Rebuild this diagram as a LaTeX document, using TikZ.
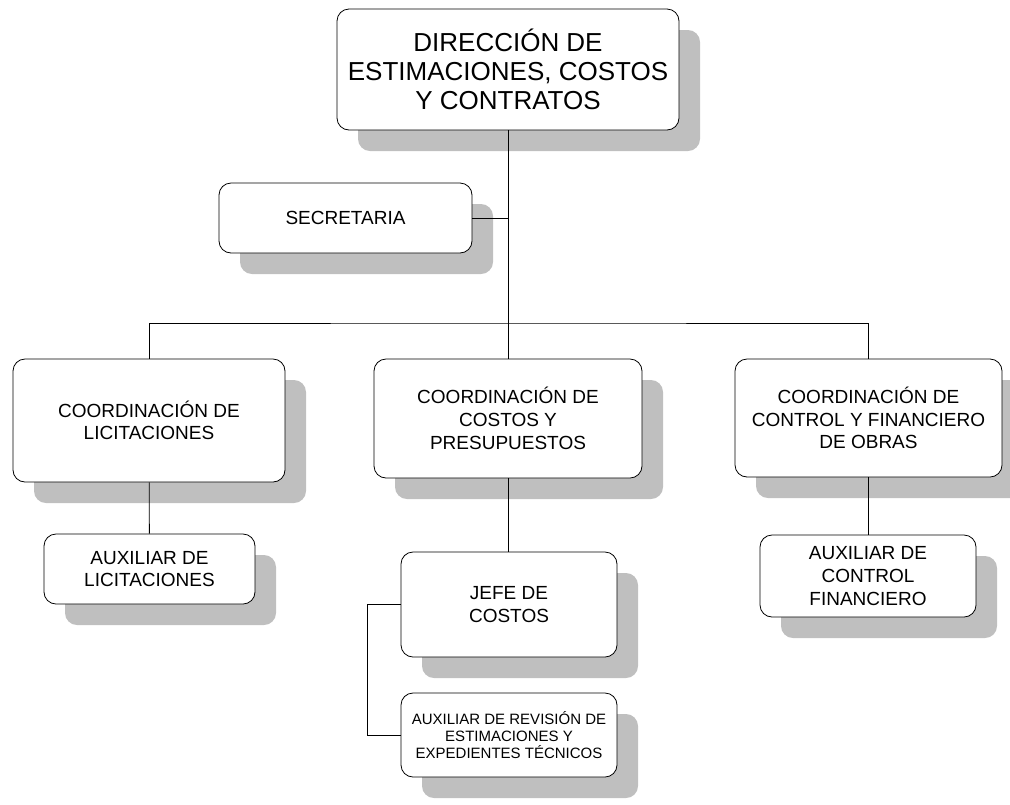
\documentclass[tikz,border=0pt]{standalone}
\usepackage{fontspec}
\setmainfont{Liberation Sans}
\usetikzlibrary{shadows}
\tikzset{
	box/.style={draw, rounded corners=9pt, fill=white, line width=0.6pt,
		align=center, inner sep=0pt,
		drop shadow={shadow xshift=15.75pt, shadow yshift=-15.75pt, fill=black!25, opacity=1}},
	big/.style={font=\fontsize{19.5pt}{22pt}\selectfont},
	mid/.style={font=\fontsize{14.25pt}{17pt}\selectfont},
	small/.style={font=\fontsize{11.25pt}{12.5pt}\selectfont},
}
\begin{document}
\begin{tikzpicture}[x=0.75pt, y=-0.75pt, line width=0.6pt]
	\useasboundingbox (0,0) rectangle (1010,804);
	\node (D) [box, big, minimum width=256.5pt, minimum height=90.75pt] at (508,69.5)
		{DIRECCIÓN DE\\ESTIMACIONES, COSTOS\\Y CONTRATOS};
	\node (S) [box, mid, minimum width=189.75pt, minimum height=52.5pt] at (345.5,218) {SECRETARIA};
	\node (CL) [box, mid, minimum width=204pt, minimum height=92.25pt] at (149,420.5)
		{COORDINACIÓN DE\\LICITACIONES};
	\node (AL) [box, mid, minimum width=158.25pt, minimum height=52.5pt] at (149.5,569)
		{AUXILIAR DE\\LICITACIONES};
	\node (CC) [box, mid, minimum width=201pt, minimum height=89.25pt] at (508,418.5)
		{COORDINACIÓN DE\\COSTOS Y\\PRESUPUESTOS};
	\node (JC) [box, mid, minimum width=162pt, minimum height=78.75pt] at (509,604.5) {JEFE DE\\COSTOS};
	\node (AR) [box, small, minimum width=162pt, minimum height=63pt] at (509,735)
		{AUXILIAR DE REVISIÓN DE\\ESTIMACIONES Y\\EXPEDIENTES TÉCNICOS};
	\node (CF) [box, mid, minimum width=200.25pt, minimum height=88.5pt] at (868.5,418)
		{COORDINACIÓN DE\\CONTROL Y FINANCIERO\\DE OBRAS};
	\node (AF) [box, mid, minimum width=162pt, minimum height=61.5pt] at (868,576)
		{AUXILIAR DE\\CONTROL\\FINANCIERO};
	\coordinate (bus) at (508,323);
	\draw (D.south) -- (CC.north);
	\draw (S.east) -- (S.east -| D.south);
	\draw (CL.north) |- (bus) -| (CF.north);
	\draw (CL) -- (AL);
	\draw (CC.south) -- (CC.south |- JC.north);
	\draw (CF.south) -- (CF.south |- AF.north);
	\draw (JC.west) -- ++(-33,0) |- (AR.west);
\end{tikzpicture}
\end{document}
